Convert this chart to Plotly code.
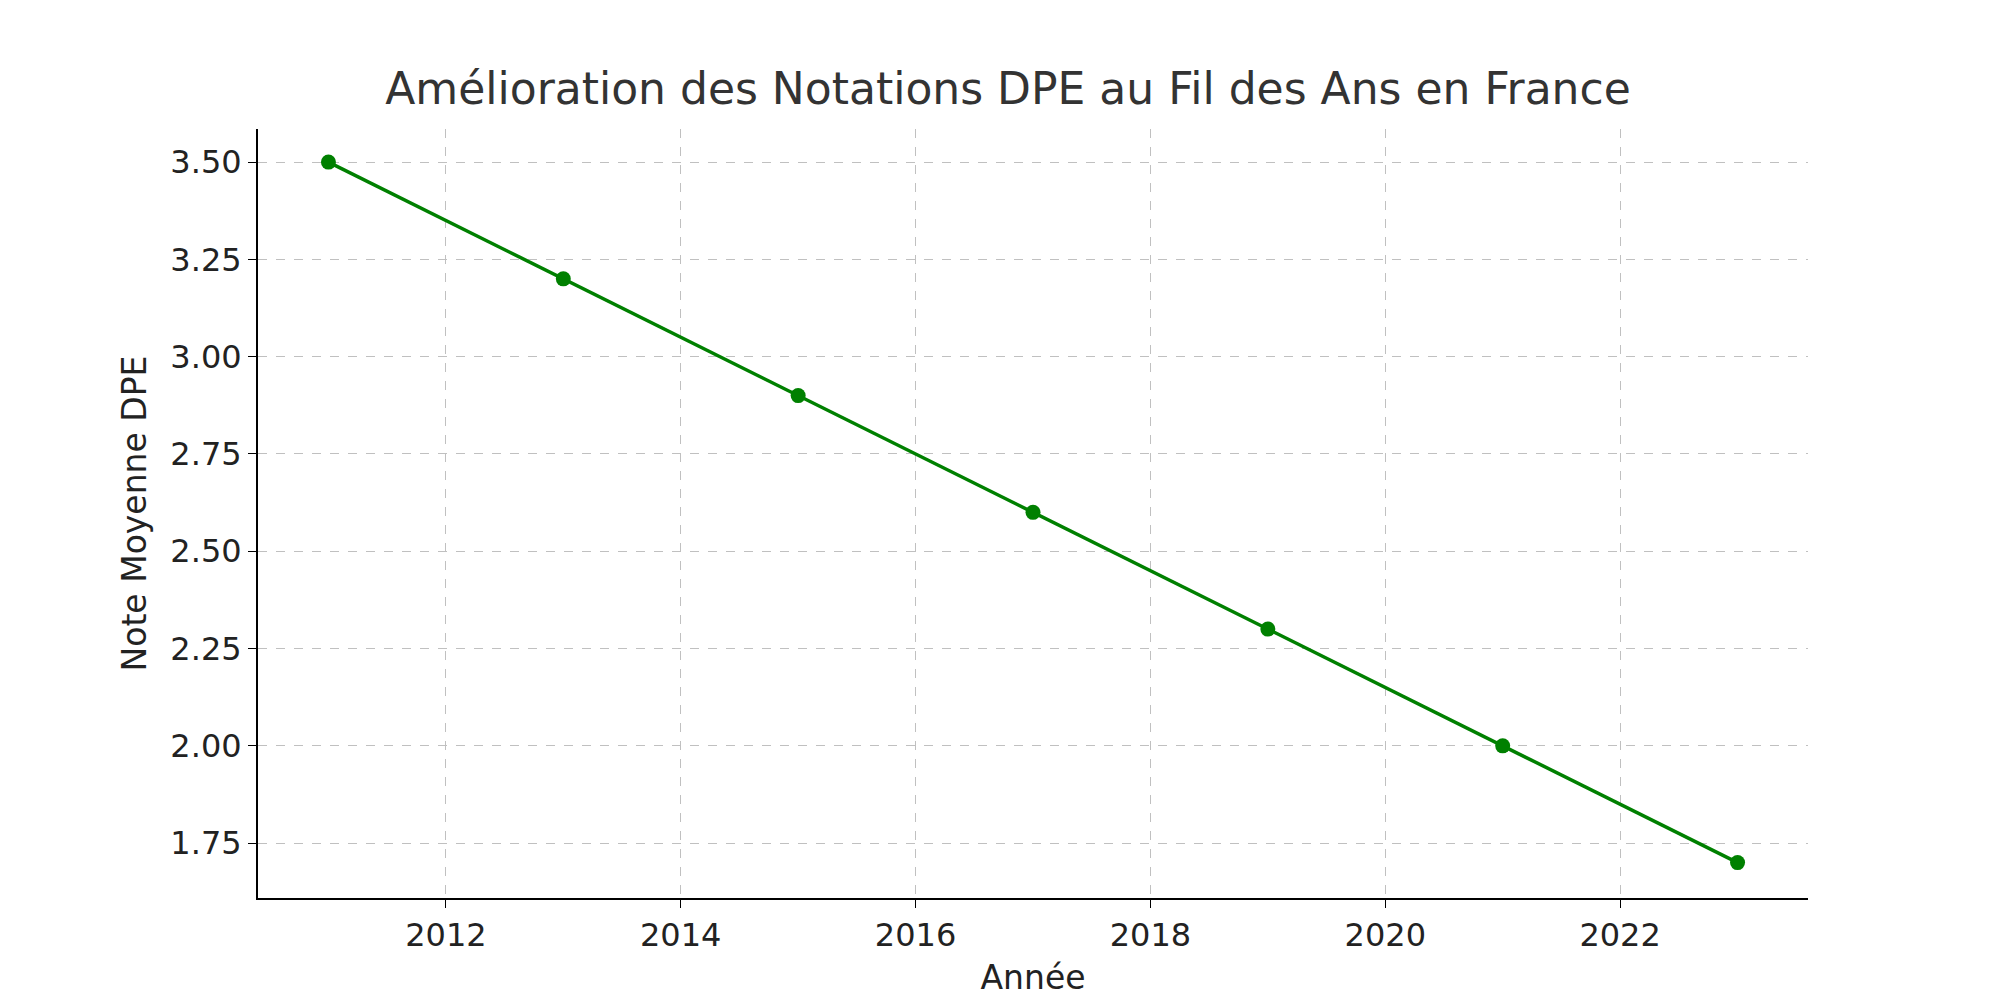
import plotly.graph_objects as go

years = [2011, 2013, 2015, 2017, 2019, 2021, 2023]
dpe_scores = [3.5, 3.2, 2.9, 2.6, 2.3, 2.0, 1.7]
y_ticks = [1.75, 2.00, 2.25, 2.50, 2.75, 3.00, 3.25, 3.50]
x_ticks = [2012, 2014, 2016, 2018, 2020, 2022]

fig = go.Figure()
fig.add_trace(
    go.Scatter(
        x=years,
        y=dpe_scores,
        mode="lines+markers",
        line=dict(color="green", width=3.5),
        marker=dict(color="green", size=15),
        showlegend=False,
    )
)

axis_common = dict(
    showline=True,
    linewidth=2,
    linecolor="black",
    showgrid=True,
    gridcolor="#c0c0c0",
    griddash="dash",
    gridwidth=1.2,
    ticks="outside",
    ticklen=8,
    tickcolor="black",
    tickfont=dict(size=32, color="#222"),
    zeroline=False,
)

fig.update_layout(
    width=2000,
    height=1000,
    font=dict(family="DejaVu Sans"),
    paper_bgcolor="white",
    plot_bgcolor="white",
    margin=dict(l=250, r=200, t=121, b=110),
    title=dict(
        text="Amélioration des Notations DPE au Fil des Ans en France",
        x=0.5,
        y=0.935,
        xanchor="center",
        font=dict(size=44, color="#333"),
    ),
    xaxis=dict(
        **axis_common,
        range=[2010.4, 2023.6],
        tickvals=x_ticks,
        title=dict(text="Année", font=dict(size=33, color="#222"), standoff=12),
    ),
    yaxis=dict(
        **axis_common,
        range=[1.609, 3.585],
        tickvals=y_ticks,
        tickformat=".2f",
        title=dict(text="Note Moyenne DPE", font=dict(size=33, color="#222"), standoff=14),
    ),
)

fig.write_html("out.html")
